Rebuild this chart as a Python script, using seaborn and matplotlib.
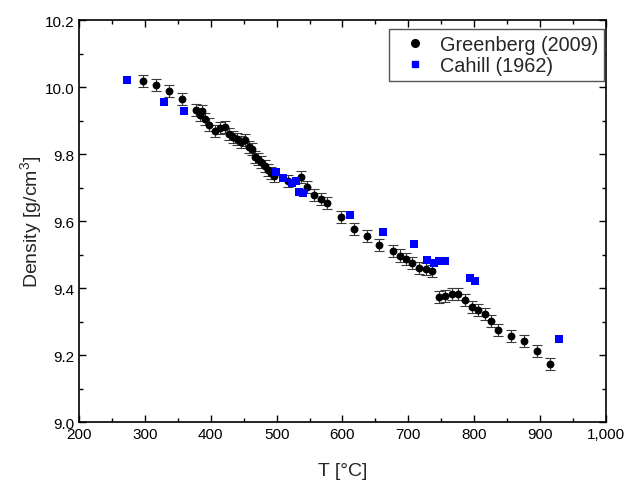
import numpy as np
import pandas as pd
import matplotlib
matplotlib.use("Agg")
import matplotlib.pyplot as plt
import seaborn as sns
from matplotlib.ticker import MultipleLocator, FuncFormatter
from matplotlib.lines import Line2D

# Greenberg (2009)
green_T = [297, 317, 337, 357, 377, 384, 387, 392, 398, 406, 414, 421, 428, 434,
           440, 446, 452, 458, 462, 467, 472, 477, 482, 487, 492, 496, 517, 537,
           546, 557, 567, 577, 597, 617, 637, 656, 677, 687, 696, 706, 716, 726,
           736, 746, 756, 766, 776, 786, 796, 806, 816, 826, 836, 856, 876, 896, 915]
green_D = [10.018, 10.007, 9.987, 9.963, 9.931, 9.917, 9.929, 9.905, 9.888, 9.870,
           9.877, 9.882, 9.860, 9.852, 9.845, 9.837, 9.843, 9.820, 9.815, 9.790,
           9.785, 9.775, 9.763, 9.753, 9.743, 9.733, 9.720, 9.730, 9.702, 9.677,
           9.665, 9.654, 9.613, 9.576, 9.555, 9.527, 9.510, 9.497, 9.486, 9.474,
           9.459, 9.456, 9.451, 9.373, 9.376, 9.382, 9.383, 9.364, 9.342, 9.334,
           9.323, 9.301, 9.276, 9.257, 9.242, 9.211, 9.174]
green_err = 0.018

# Cahill (1962)
cahill_T = [273, 329, 359, 499, 510, 523, 529, 534, 540, 611, 661, 709, 728,
            739, 746, 755, 794, 801, 928]
cahill_D = [10.022, 9.955, 9.927, 9.745, 9.728, 9.712, 9.718, 9.686, 9.684,
            9.619, 9.567, 9.530, 9.484, 9.476, 9.480, 9.480, 9.430, 9.422, 9.248]

x_ticks = [200, 300, 400, 500, 600, 700, 800, 900, 1000]

sns.set_style("ticks")
plt.rcParams['font.family'] = ['Liberation Sans', 'DejaVu Sans']
plt.rcParams['mathtext.fontset'] = 'custom'
plt.rcParams['mathtext.rm'] = 'Liberation Sans'

fig = plt.figure(figsize=(6.27, 4.85), dpi=100)
ax = fig.add_axes([0.126, 0.1278, 0.8405, 0.8289])

dg = pd.DataFrame({"T": green_T, "D": green_D})
dc = pd.DataFrame({"T": cahill_T, "D": cahill_D})

ax.errorbar(dg["T"], dg["D"], yerr=green_err, fmt='none', ecolor='#3a3a3a',
            elinewidth=0.8, capsize=3.5, capthick=0.8, zorder=2)
sns.scatterplot(data=dg, x="T", y="D", ax=ax, color='black', marker='o', s=32,
                edgecolor='black', linewidth=0, zorder=3)
sns.scatterplot(data=dc, x="T", y="D", ax=ax, color='#0000ff', marker='s', s=26,
                edgecolor='#0000ff', linewidth=0, zorder=4)

ax.set_xlim(200, 1000)
ax.set_ylim(9.0, 10.2)
ax.set_xticks(x_ticks)
ax.xaxis.set_major_formatter(FuncFormatter(lambda v, p: f"{v:,.0f}"))
ax.yaxis.set_major_locator(MultipleLocator(0.2))
ax.yaxis.set_major_formatter(FuncFormatter(lambda v, p: f"{v:.1f}"))
ax.xaxis.set_minor_locator(MultipleLocator(50))
ax.yaxis.set_minor_locator(MultipleLocator(0.1))
ax.tick_params(which='both', direction='in', top=True, right=True, labelsize=11,
               width=1.0, colors='black')
ax.tick_params(which='major', length=5)
ax.tick_params(which='minor', length=3)
for s in ax.spines.values():
    s.set_linewidth(1.2)
    s.set_color('black')

ax.set_xlabel("T [°C]", fontsize=14, labelpad=15)
ax.set_ylabel("Density [g/cm$^3$]", fontsize=14, labelpad=0)

handles = [
    Line2D([], [], marker='o', color='black', linestyle='none', markersize=5.5),
    Line2D([], [], marker='s', color='#0000ff', linestyle='none', markersize=5),
]
leg = ax.legend(handles, ["Greenberg (2009)", "Cahill (1962)"], loc='upper right',
                bbox_to_anchor=(0.996, 0.978), borderaxespad=0, fontsize=14.3,
                frameon=True, fancybox=False,
                edgecolor='#555555', framealpha=1, handletextpad=0.25,
                borderpad=0.3, labelspacing=0.1, handlelength=2.0)
leg.get_frame().set_linewidth(1.0)

fig.savefig("out.png", dpi=100)
